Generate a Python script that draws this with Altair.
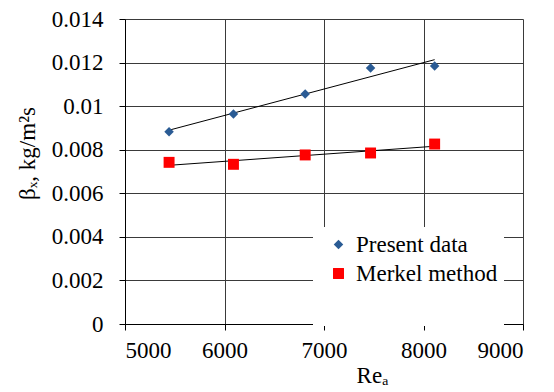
import altair as alt
import pandas as pd

re_a = [5443, 6090, 6811, 7468, 8112]
present = [0.00883, 0.00964, 0.01056, 0.01175, 0.01184]
merkel = [0.00742, 0.00733, 0.00776, 0.00785, 0.00826]
series = ["Present data", "Merkel method"]
x_ticks = [5000, 6000, 7000, 8000, 9000]
y_ticks = [0, 0.002, 0.004, 0.006, 0.008, 0.01, 0.012, 0.014]

rows = []
for name, vals in zip(series, [present, merkel]):
    for x, y in zip(re_a, vals):
        rows.append({"Re": x, "beta": y, "series": name})
df = pd.DataFrame(rows)

FONT = "Liberation Serif, Times New Roman, serif"

xenc = alt.X("Re:Q", scale=alt.Scale(domain=[5000, 9000], nice=False),
             axis=alt.Axis(values=x_ticks, format="d", title="Reₐ",
                           titleX=247, titleY=51, titleBaseline="middle",
                           labelPadding=9))
yenc = alt.Y("beta:Q", scale=alt.Scale(domain=[0, 0.014], nice=False),
             axis=alt.Axis(values=y_ticks, format=".3~f", title="βₓ, kg/m²s",
                           titleX=-98, titleY=134, titleAngle=-90,
                           titleBaseline="middle", titleAlign="center",
                           labelPadding=16))

base = alt.Chart(df)

lines = base.transform_regression(
    "Re", "beta", groupby=["series"]
).mark_line(color="black", strokeWidth=1).encode(
    x=xenc, y=yenc, detail="series:N"
)

points = base.mark_point(filled=True, opacity=1).encode(
    x=xenc, y=yenc,
    color=alt.Color("series:N", sort=series,
                    scale=alt.Scale(domain=series, range=["#2A5B94", "#FF0000"]),
                    legend=alt.Legend(title=" ", titleOrient="bottom",
                                      titleFontSize=30, titlePadding=4,
                                      orient="none", legendX=188, legendY=208,
                                      fillColor="white", padding=6,
                                      symbolOffset=8, labelOffset=6,
                                      rowPadding=5)),
    shape=alt.Shape("series:N", sort=series,
                    scale=alt.Scale(domain=series, range=["diamond", "square"]),
                    legend=None),
    size=alt.Size("series:N", sort=series,
                  scale=alt.Scale(domain=series, range=[90, 120]),
                  legend=None),
)

chart = alt.layer(lines, points).properties(
    width=398, height=305,
    autosize=alt.AutoSizeParams(type="none"),
    padding={"left": 117, "top": 11, "right": 20, "bottom": 68},
).configure_view(strokeWidth=0).configure_axis(
    labelFont=FONT, titleFont=FONT, labelFontSize=23, titleFontSize=23,
    titleFontWeight="normal", labelColor="black", titleColor="black",
    domainColor="black", tickColor="black", gridColor="#3a3a3a",
    gridOpacity=1, gridWidth=1, tickSize=6, domainWidth=1,
).configure_legend(
    labelFont=FONT, labelFontSize=23, labelColor="black", titleFont=FONT,
)

chart.save("out.html", embed_options={"renderer": "svg", "actions": False})
